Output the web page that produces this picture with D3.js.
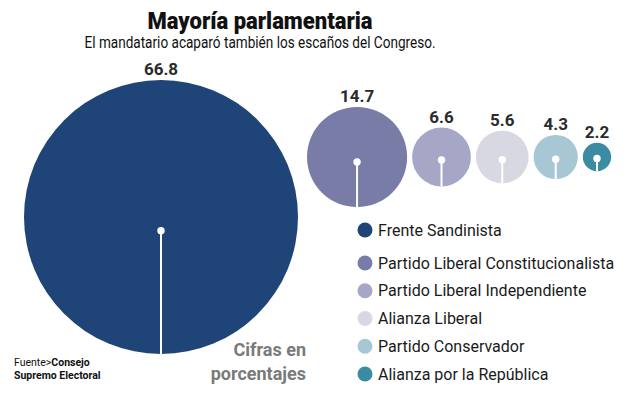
<!DOCTYPE html>
<html><head><meta charset="utf-8">
<script src="https://cdn.jsdelivr.net/npm/d3@7"></script>
<style>
body{margin:0;background:#fff;}
svg{display:block;}
text{font-family:"Roboto","Open Sans",sans-serif;}
</style></head>
<body><svg id="c" width="640" height="405"></svg>
<script>
const parties = ["Frente Sandinista","Partido Liberal Constitucionalista","Partido Liberal Independiente","Alianza Liberal","Partido Conservador","Alianza por la República"];
const values = [66.8,14.7,6.6,5.6,4.3,2.2];
const labels = ["66.8","14.7","6.6","5.6","4.3","2.2"];
const colors = ["#1f4478","#787ca7","#a6a6c7","#d8d8e3","#a8c7d5","#3b8ba3"];

const svg = d3.select("#c");
const r = d3.scalePow().exponent(0.665).domain([0, d3.max(values)]).range([0, 137]);

// layout: pack circles left to right
let x = 24;
const nodes = values.map((v,i)=>{
  const rr = r(v);
  const cx = x + rr; x += 2*rr + (i===0 ? 9 : 5);
  const cy = i===0 ? 217 : 157;
  return {v, rr, cx, cy, i};
});

const g = svg.append("g");
g.selectAll("circle.b").data(nodes).join("circle").attr("class","b")
  .attr("cx",d=>d.cx).attr("cy",d=>d.cy).attr("r",d=>d.rr).attr("fill",(d,i)=>colors[i]);
g.selectAll("line.s").data(nodes).join("line").attr("class","s")
  .attr("x1",d=>d.cx).attr("x2",d=>d.cx)
  .attr("y1",d=>d.cy+d.rr*0.1).attr("y2",d=>d.cy+d.rr)
  .attr("stroke","#fff").attr("stroke-width",2);
g.selectAll("circle.d").data(nodes).join("circle").attr("class","d")
  .attr("cx",d=>d.cx).attr("cy",d=>d.cy+d.rr*0.1).attr("r",3.7).attr("fill","#fff");
g.selectAll("text.v").data(nodes).join("text").attr("class","v")
  .attr("x",d=>d.cx).attr("y",d=>d.cy-d.rr-5).attr("text-anchor","middle")
  .attr("font-size",17).attr("font-weight","bold").attr("fill","#2b2b2b")
  .text((d,i)=>labels[i]);

// title
svg.append("text").attr("x",260).attr("y",29).attr("text-anchor","middle")
  .attr("font-size",24).attr("font-weight",900).attr("fill","#111")
  .attr("textLength",225).attr("lengthAdjust","spacingAndGlyphs").text("Mayoría parlamentaria");
svg.append("text").attr("x",260).attr("y",48).attr("text-anchor","middle")
  .attr("font-size",16.5).attr("fill","#111")
  .attr("textLength",351).attr("lengthAdjust","spacingAndGlyphs").text("El mandatario acaparó también los escaños del Congreso.");

// legend
const ly = d3.scalePoint().domain(d3.range(1,6)).range([263,374]);
const leg = svg.selectAll("g.l").data(parties).join("g").attr("class","l")
  .attr("transform",(d,i)=>`translate(0,${i===0?230:ly(i)})`);
leg.append("circle").attr("cx",365).attr("cy",0).attr("r",7.5).attr("fill",(d,i)=>colors[i]);
leg.append("text").attr("x",378).attr("y",5.5).attr("font-size",16).attr("fill","#1a1a1a").text(d=>d);

// note
const note = svg.append("text").attr("text-anchor","end").attr("font-size",18).attr("font-weight","bold").attr("fill","#7a7a7a");
note.append("tspan").attr("x",306).attr("y",356).text("Cifras en");
note.append("tspan").attr("x",306).attr("y",380).text("porcentajes");

// source
const src = svg.append("text").attr("font-size",10.5).attr("fill","#111");
src.append("tspan").attr("x",14).attr("y",366).text("Fuente>");
src.append("tspan").attr("font-weight","bold").text("Consejo");
src.append("tspan").attr("x",14).attr("y",379).attr("font-weight","bold").text("Supremo Electoral");
</script></body></html>
